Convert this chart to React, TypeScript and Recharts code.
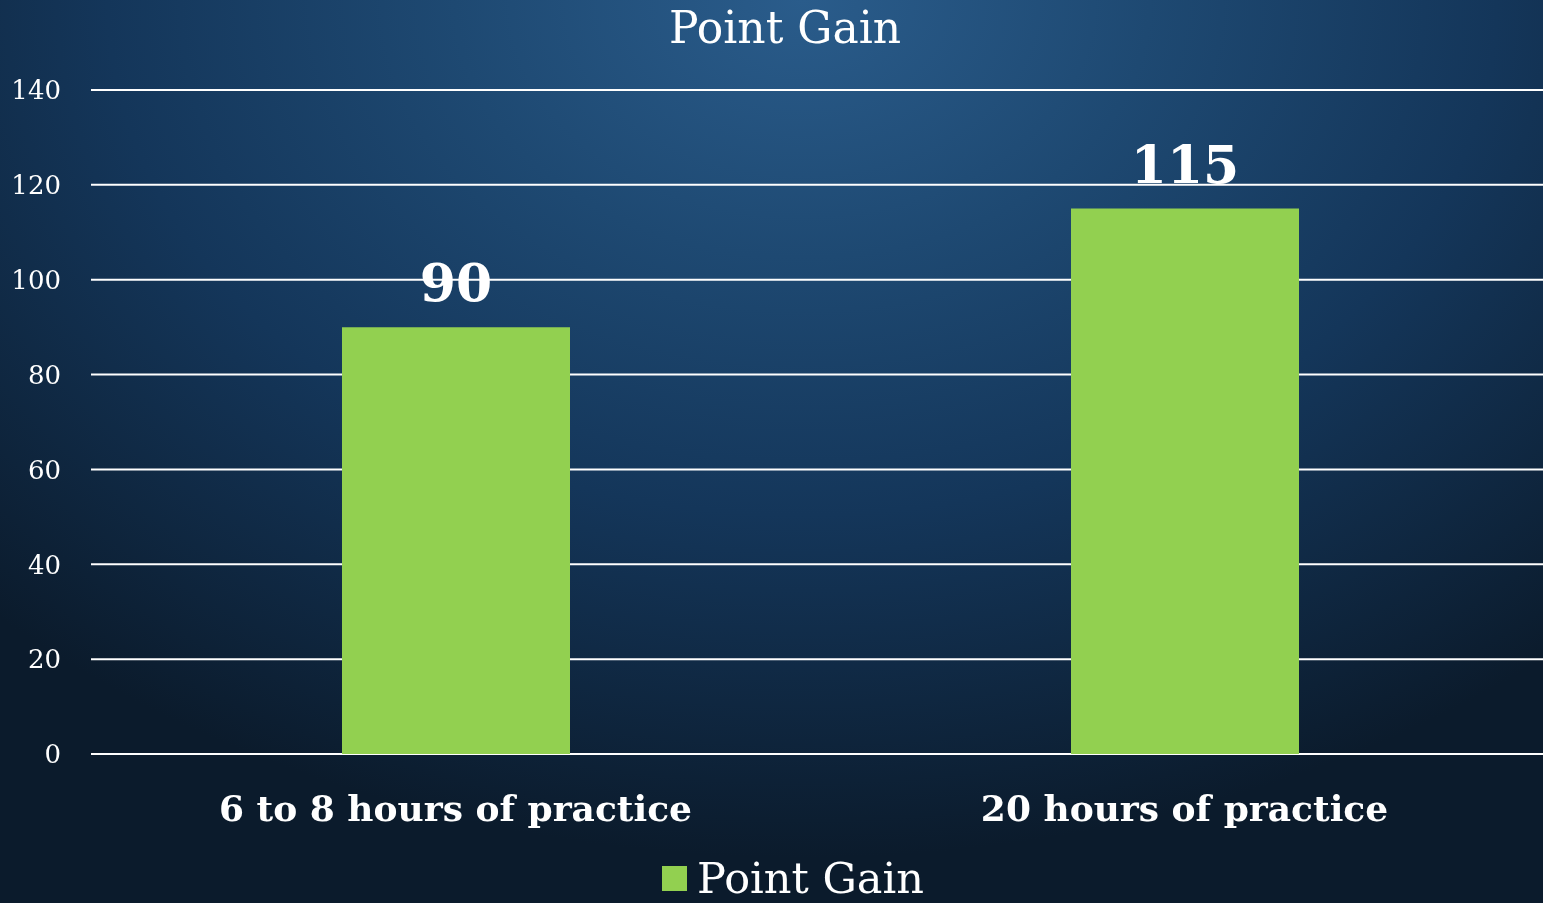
import React from "react";
import { BarChart, Bar, XAxis, YAxis, CartesianGrid, LabelList } from "recharts";

const categories = ["6 to 8 hours of practice", "20 hours of practice"];
const pointGain = [90, 115];
const yTicks = [0, 20, 40, 60, 80, 100, 120, 140];

const seriesName = "Point Gain";
const barColor = "#92D050";
const font = "'DejaVu Serif', serif";

const data = categories.map((name, i) => ({ name, value: pointGain[i] }));

export default function App() {
  return (
    <div
      style={{
        position: "fixed",
        left: 0,
        top: 0,
        width: 1543,
        height: 903,
        overflow: "hidden",
        background:
          "radial-gradient(ellipse 75% 95% at 52% 0%, #2a5c8b 0%, #1e4972 30%, #14365a 60%, #0b1b2c 100%)",
        fontFamily: font,
      }}
    >
      <div
        style={{
          position: "absolute",
          top: 2,
          left: 0,
          width: 1570,
          textAlign: "center",
          color: "#fff",
          fontSize: 44,
          lineHeight: "52px",
        }}
      >
        {seriesName}
      </div>

      <BarChart
        width={1549}
        height={903}
        data={data}
        margin={{ top: 90, right: 0, left: 0, bottom: 89 }}
        style={{ position: "absolute", left: 0, top: 0 }}
      >
        <CartesianGrid vertical={false} stroke="#ffffff" strokeWidth={2} />
        <XAxis
          dataKey="name"
          axisLine={false}
          tickLine={false}
          tickSize={0}
          tickMargin={41}
          height={60}
          tick={{ fill: "#ffffff", fontSize: 36, fontWeight: "bold", fontFamily: font }}
        />
        <YAxis
          domain={[0, 140]}
          ticks={yTicks}
          width={91}
          axisLine={false}
          tickLine={false}
          tickSize={0}
          tickMargin={30}
          tick={{ fill: "#ffffff", fontSize: 26, fontFamily: font }}
        />
        <Bar dataKey="value" name={seriesName} fill={barColor} barSize={228} isAnimationActive={false}>
          <LabelList
            dataKey="value"
            position="top"
            offset={26}
            fill="#ffffff"
            style={{ fontSize: 52, fontWeight: "bold", fontFamily: font }}
          />
        </Bar>
      </BarChart>

      <div
        style={{
          position: "absolute",
          top: 855,
          left: 662,
          display: "flex",
          alignItems: "center",
          color: "#fff",
          fontSize: 43,
          lineHeight: "46px",
        }}
      >
        <span style={{ display: "inline-block", width: 25, height: 25, background: barColor, marginRight: 10 }} />
        {seriesName}
      </div>
    </div>
  );
}
